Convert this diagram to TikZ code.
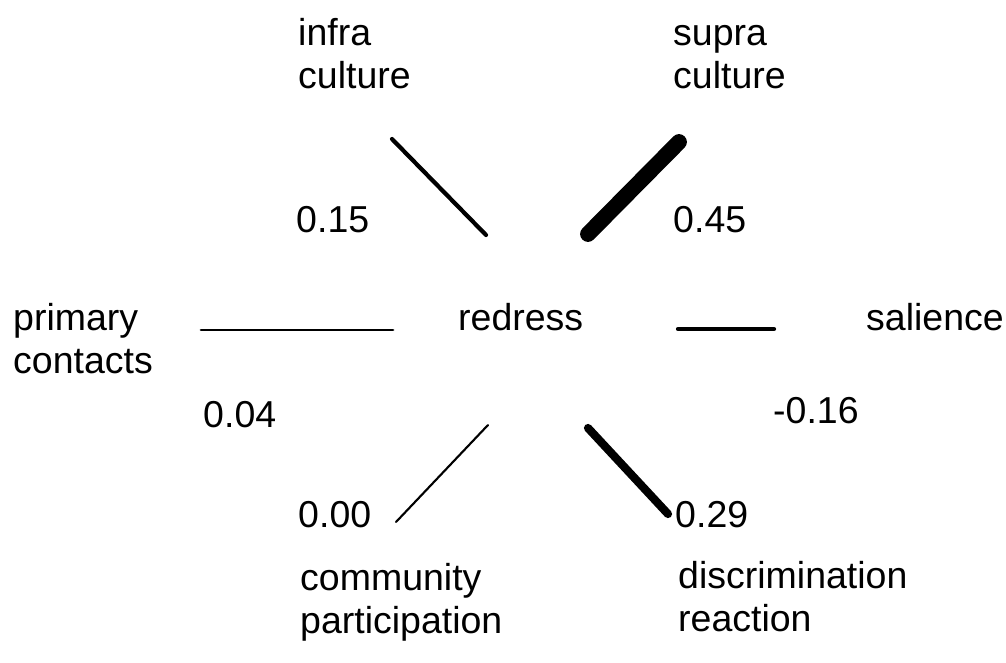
\documentclass[tikz,border=0pt]{standalone}
\usepackage{fontspec}
\setmainfont{Liberation Sans}
\usetikzlibrary{positioning}
\tikzset{
  varname/.style={anchor=base west, inner sep=0pt, align=left,
                  font=\fontsize{32}{36}\selectfont},
  coef/.style={anchor=base west, inner sep=0pt, font=\fontsize{32}{36}\selectfont},
  pline/.style={line cap=round, black},
}

\begin{document}
\begin{tikzpicture}[x=0.3mm, y=-0.3mm]
        \useasboundingbox (0,0) rectangle (1006,662);
        % variables (base = last line)
        \node[varname](infra) at (298,88){infra\\culture};
        \node[varname](supra) at (673,88){supra\\culture};
        \node[varname](prim) at (13,373){primary\\contacts};
        \node[varname](redress) at (458,330){redress};
        \node[varname](sal) at (866,330){salience};
        \node[varname](comm) at (300,633){community\\participation};
        \node[varname](discr) at (678,631){discrimination\\reaction};
        % coefficients
        \node[coef](cinfra) at (296,232){0.15};
        \node[coef](csupra) at (673,232){0.45};
        \node[coef](cprim) at (203,427){0.04};
        \node[coef](csal) at (773,423){-0.16};
        \node[coef](ccomm) at (298,527){0.00};
        \node[coef](cdiscr) at (675,527){0.29};
        % line ends
        \coordinate (i1) at (392,139); \coordinate (i2) at (486,235);
        \coordinate (s1) at (679,142); \coordinate (s2) at (588,234);
        \coordinate (p1) at (201,330); \coordinate (p2) at (393,330);
        \coordinate (l1) at (678,329); \coordinate (l2) at (774,329);
        \coordinate (c1) at (488,425); \coordinate (c2) at (396,522);
        \coordinate (d1) at (588,428); \coordinate (d2) at (668,514);
        \draw[pline, line width=3.6pt](i1)--(i2);
        \draw[pline, line width=13.5pt](s1)--(s2);
        \draw[pline, line width=2.3pt](p1)--(p2);
        \draw[pline, line width=3.6pt](l1)--(l2);
        \draw[pline, line width=1.8pt](c1)--(c2);
        \draw[pline, line width=7pt](d1)--(d2);
      \end{tikzpicture}
\end{document}
